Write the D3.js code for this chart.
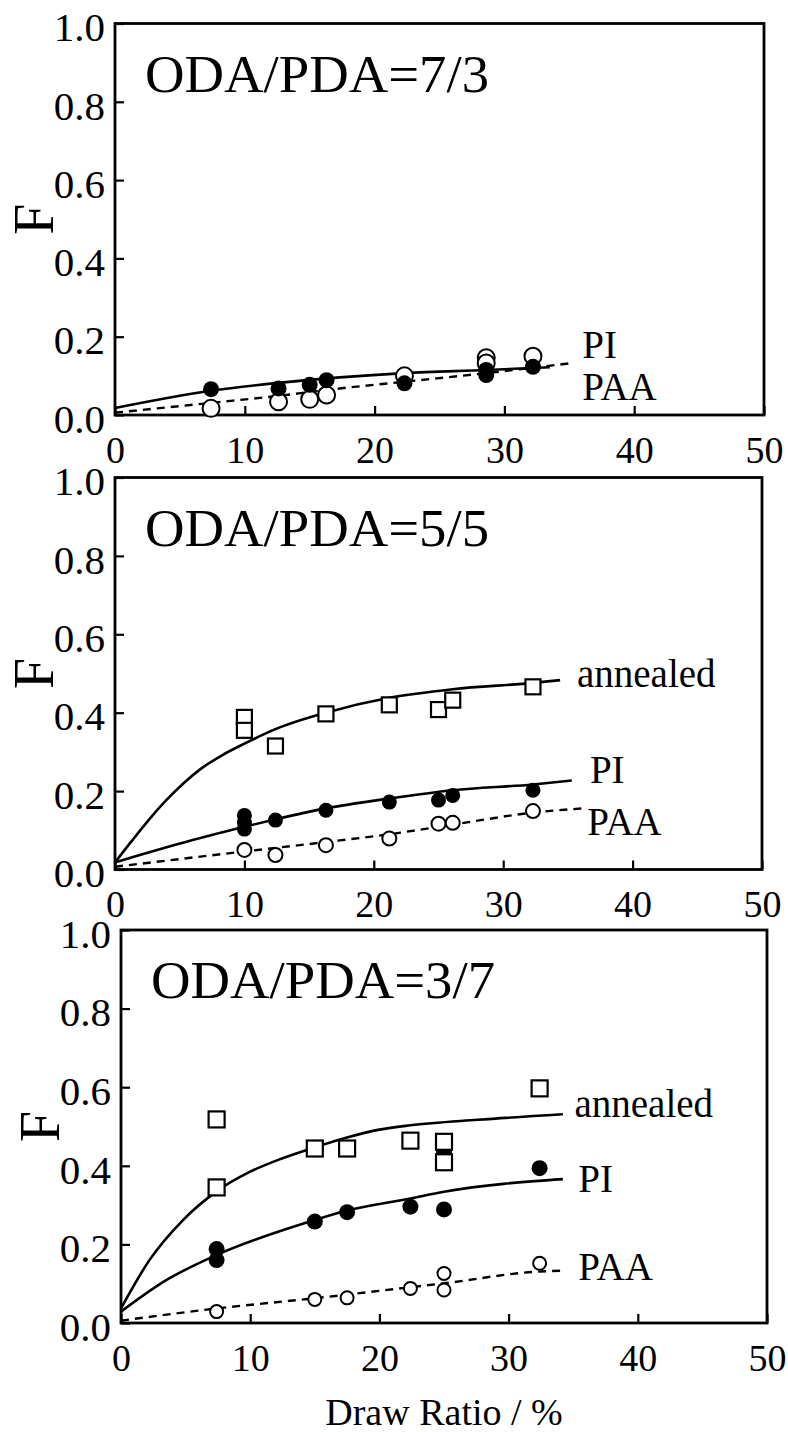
<!DOCTYPE html>
<html>
<head>
<meta charset="utf-8">
<script src="https://cdn.jsdelivr.net/npm/d3@7"></script>
<style>
  body { margin: 0; background: #fff; }
  svg { display: block; font-family: "Liberation Serif", "Times New Roman", serif; }
</style>
</head>
<body>
<div id="chart-area"></div>
<script>
// ---- DATA ----
const xTicks = [0, 10, 20, 30, 40, 50];
const yTicks = [0.0, 0.2, 0.4, 0.6, 0.8, 1.0];
const panelTitles = ["ODA/PDA=7/3", "ODA/PDA=5/5", "ODA/PDA=3/7"];
const seriesNames = ["annealed", "PI", "PAA"];
const xTitle = "Draw Ratio / %";
const yTitle = "F";

// ODA/PDA = 7/3
const pi73 = [[7.4, 0.066], [12.6, 0.068], [15.0, 0.077], [16.3, 0.089], [22.3, 0.081], [28.6, 0.115], [28.6, 0.102], [32.2, 0.123]];
const paa73 = [[7.4, 0.017], [12.6, 0.034], [15.0, 0.040], [16.3, 0.051], [22.3, 0.100], [28.6, 0.146], [28.6, 0.133], [32.2, 0.150]];
const piFit73 = [[0, 0.018], [7.4, 0.062], [12.6, 0.082], [22.3, 0.107], [28.6, 0.115], [33.5, 0.122]];
const paaFit73 = [[0, 0.006], [7.4, 0.031], [12.6, 0.049], [16.3, 0.064], [22.3, 0.085], [28.6, 0.107], [35.3, 0.133]];

// ODA/PDA = 5/5
const ann55 = [[10.0, 0.388], [10.0, 0.355], [12.4, 0.315], [16.3, 0.397], [21.2, 0.420], [25.0, 0.408], [26.1, 0.432], [32.3, 0.466]];
const pi55 = [[10.0, 0.138], [10.0, 0.120], [10.0, 0.103], [12.4, 0.126], [16.3, 0.151], [21.2, 0.172], [25.0, 0.177], [26.1, 0.189], [32.3, 0.202]];
const paa55 = [[10.0, 0.050], [12.4, 0.037], [16.3, 0.062], [21.2, 0.079], [25.0, 0.117], [26.1, 0.119], [32.3, 0.149]];
const annFit55 = [[0, 0.018], [1.3, 0.073], [2.6, 0.126], [4.0, 0.178], [5.3, 0.220], [6.6, 0.256], [8.3, 0.292], [10.0, 0.321], [12.4, 0.358], [16.3, 0.400], [21.2, 0.438], [26.1, 0.460], [32.3, 0.476], [34.4, 0.483]];
const piFit55 = [[0, 0.018], [6.0, 0.075], [10.0, 0.109], [12.4, 0.128], [16.3, 0.156], [21.2, 0.181], [26.1, 0.202], [32.3, 0.217], [35.3, 0.227]];
const paaFit55 = [[0, 0.007], [10.0, 0.046], [16.3, 0.070], [21.2, 0.090], [26.0, 0.114], [32.3, 0.145], [36.2, 0.156]];

// ODA/PDA = 3/7
const ann37 = [[7.4, 0.518], [7.4, 0.345], [15.0, 0.444], [17.5, 0.444], [22.4, 0.464], [25.0, 0.461], [25.0, 0.409], [32.4, 0.597]];
const pi37 = [[7.4, 0.188], [7.4, 0.160], [15.0, 0.258], [17.5, 0.282], [22.4, 0.296], [25.0, 0.289], [25.0, 0.435], [32.4, 0.394]];
const paa37 = [[7.4, 0.029], [15.0, 0.060], [17.5, 0.064], [22.4, 0.088], [25.0, 0.126], [25.0, 0.084], [32.4, 0.152]];
const annFit37 = [[0, 0.037], [2.2, 0.160], [4.8, 0.262], [7.4, 0.335], [10.0, 0.385], [12.4, 0.418], [15.0, 0.447], [17.5, 0.472], [20.0, 0.492], [22.4, 0.503], [27.6, 0.517], [34.2, 0.531]];
const piFit37 = [[0, 0.029], [3.5, 0.109], [7.4, 0.173], [15.0, 0.262], [17.5, 0.286], [22.4, 0.317], [25.0, 0.334], [34.2, 0.366]];
const paaFit37 = [[0, 0.006], [7.4, 0.037], [15.0, 0.063], [22.4, 0.091], [25.0, 0.101], [32.4, 0.131], [34.2, 0.133]];

// ---- LAYOUT ----
let width = 788, height = 1432;

let panels = [
  { title: panelTitles[0], left: 115, right: 764, top: 23.5, bottom: 415, r: 8, ro: 8.5, sq: 15,
    ann: null, annFit: null, pi: pi73, piFit: piFit73, paa: paa73, paaFit: paaFit73,
    labels: { PI: [36.0, 0.145], PAA: [36.0, 0.038] } },
  { title: panelTitles[1], left: 115, right: 762, top: 477.5, bottom: 869.5, r: 7.5, ro: 7, sq: 15,
    ann: ann55, annFit: annFit55, pi: pi55, piFit: piFit55, paa: paa55, paaFit: paaFit55,
    labels: { annealed: [35.7, 0.466], PI: [36.7, 0.221], PAA: [36.5, 0.088] } },
  { title: panelTitles[2], left: 121, right: 767, top: 930, bottom: 1323, r: 8, ro: 6.5, sq: 16,
    ann: ann37, annFit: annFit37, pi: pi37, piFit: piFit37, paa: paa37, paaFit: paaFit37,
    labels: { annealed: [35.1, 0.524], PI: [35.4, 0.333], PAA: [35.4, 0.109] } }
];

let svg = d3.select("#chart-area")
  .append("svg")
  .attr("width", width)
  .attr("height", height);

svg.append("rect").attr("width", width).attr("height", height).attr("fill", "#fff");

panels.forEach(function(p, i) {
  let x = d3.scaleLinear().domain([0, 50]).range([p.left, p.right]);
  let y = d3.scaleLinear().domain([0, 1]).range([p.bottom, p.top]);
  let g = svg.append("g");

  let line = d3.line()
    .x(function(d) { return x(d[0]); })
    .y(function(d) { return y(d[1]); })
    .curve(d3.curveMonotoneX);

  // ---- AXES ----
  let yAxis = d3.axisLeft(y).tickValues(yTicks).tickFormat(d3.format(".1f"))
    .tickSizeInner(-9).tickSizeOuter(0).tickPadding(10);
  let xAxis = d3.axisBottom(x).tickValues(xTicks).tickFormat(d3.format("d"))
    .tickSizeInner(-9).tickSizeOuter(0).tickPadding(21);

  let yg = g.append("g").attr("transform", "translate(" + p.left + ",0)").call(yAxis);
  let xg = g.append("g").attr("transform", "translate(0," + p.bottom + ")").call(xAxis);
  [yg, xg].forEach(function(a) {
    a.attr("font-family", null).attr("font-size", null);
    a.select(".domain").remove();
    a.selectAll(".tick line").attr("stroke", "#000").attr("stroke-width", 2.2);
    a.selectAll(".tick text").attr("fill", "#000");
  });
  yg.selectAll(".tick text").style("font-size", "41px").attr("dy", "0.42em");
  xg.selectAll(".tick text").style("font-size", "38px");

  // frame
  g.append("rect")
    .attr("x", p.left).attr("y", p.top)
    .attr("width", p.right - p.left).attr("height", p.bottom - p.top)
    .attr("fill", "none").attr("stroke", "#000").attr("stroke-width", 2.8);

  // title
  g.append("text")
    .attr("x", p.left + 30)
    .attr("y", p.top + 68)
    .attr("textLength", 344)
    .attr("lengthAdjust", "spacingAndGlyphs")
    .style("font-size", "52px")
    .text(p.title);

  // y title
  g.append("text")
    .attr("transform", "translate(" + (p.left - 62) + "," + ((p.top + p.bottom) / 2) + ") rotate(-90)")
    .style("text-anchor", "middle")
    .style("font-size", "56px")
    .text(yTitle);

  // ---- FIT CURVES ----
  if (p.annFit) {
    g.append("path").datum(p.annFit).attr("d", line)
      .attr("fill", "none").attr("stroke", "#000").attr("stroke-width", 2.6);
  }
  g.append("path").datum(p.piFit).attr("d", line)
    .attr("fill", "none").attr("stroke", "#000").attr("stroke-width", 2.6);
  g.append("path").datum(p.paaFit).attr("d", line)
    .attr("fill", "none").attr("stroke", "#000").attr("stroke-width", 2.4)
    .attr("stroke-dasharray", "8,6");

  // ---- MARKERS ----
  g.selectAll(".paa").data(p.paa).enter().append("circle")
    .attr("class", "paa")
    .attr("cx", function(d) { return x(d[0]); })
    .attr("cy", function(d) { return y(d[1]); })
    .attr("r", p.ro)
    .attr("fill", "#fff").attr("stroke", "#000").attr("stroke-width", 2);

  g.selectAll(".pi").data(p.pi).enter().append("circle")
    .attr("class", "pi")
    .attr("cx", function(d) { return x(d[0]); })
    .attr("cy", function(d) { return y(d[1]); })
    .attr("r", p.r)
    .attr("fill", "#000");

  if (p.ann) {
    g.selectAll(".ann").data(p.ann).enter().append("rect")
      .attr("class", "ann")
      .attr("x", function(d) { return x(d[0]) - p.sq / 2; })
      .attr("y", function(d) { return y(d[1]) - p.sq / 2; })
      .attr("width", p.sq).attr("height", p.sq)
      .attr("fill", "#fff").attr("stroke", "#000").attr("stroke-width", 2.2);
  }

  // ---- SERIES LABELS ----
  seriesNames.forEach(function(name) {
    let pos = p.labels[name];
    if (!pos) return;
    g.append("text")
      .attr("x", x(pos[0]))
      .attr("y", y(pos[1]))
      .style("font-size", "39px")
      .text(name);
  });
});

// x axis title
svg.append("text")
  .attr("x", (panels[2].left + panels[2].right) / 2)
  .attr("y", 1425)
  .style("text-anchor", "middle")
  .style("font-size", "38px")
  .text(xTitle);
</script>
</body>
</html>
